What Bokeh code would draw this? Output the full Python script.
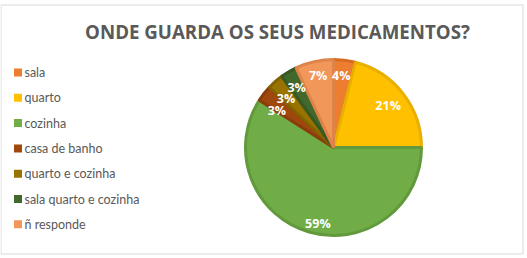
import numpy as np
from bokeh.plotting import figure
from bokeh.models import Range1d, ColumnDataSource
from bokeh.core.properties import value
from bokeh.embed import file_html
from bokeh.resources import INLINE

title = "ONDE GUARDA OS SEUS MEDICAMENTOS?"
categories = ["sala", "quarto", "cozinha", "casa de banho", "quarto e cozinha",
              "sala quarto e cozinha", "ñ responde"]
percentages = [4, 21, 59, 3, 3, 3, 7]
colors = ["#ED7D31", "#FFC000", "#70AD47", "#9E480E", "#997300", "#43682B", "#F1975A"]
edge_colors = ["#D86A22", "#E8AE00", "#62993C", "#8A3D0B", "#836200", "#385824", "#DE8449"]
# best-fit label nudges (screen px, layout only)
label_dx = [-1, -1, 4, -1, -1, -1, 0]
label_dy = [-2, 1, 8, 6, 4, 1, -3]

W, H = 527, 258
p = figure(width=W, height=H, output_backend="svg", toolbar_location=None,
           x_range=Range1d(0, W), y_range=Range1d(0, H), min_border=0)
p.axis.visible = False
p.grid.visible = False
p.outline_line_color = None
p.background_fill_color = "white"

def sy(y):
    return H - np.asarray(y, dtype=float)

# chart border
p.quad(left=[0.5], right=[522.5], top=[sy(4.5)], bottom=[sy(253.5)], fill_color=None,
       line_color="#D9D9D9", line_width=1)

# pie
cx, cys, R = 333, 147, 88
vals = np.array(percentages, dtype=float)
frac = vals / vals.sum()
cum_end = np.cumsum(frac)
cum_start = cum_end - frac
start = np.pi / 2 - cum_end * 2 * np.pi
end = np.pi / 2 - cum_start * 2 * np.pi
src = ColumnDataSource(dict(start=start, end=end, color=colors, edge=edge_colors))
p.wedge(x=cx, y=sy(cys), radius=R, start_angle="start", end_angle="end", source=src,
        fill_color="color", line_color="edge", line_width=3)

mid = (start + end) / 2
lr = 0.8 * R
lx = cx + lr * np.cos(mid) + np.array(label_dx)
ly_screen = cys - lr * np.sin(mid) + np.array(label_dy)
labels = [f"{v}%" for v in percentages]
p.text(x=lx, y=sy(ly_screen), text=labels, text_color="white", text_font=value("Open Sans"),
       text_font_style="bold", text_font_size="12.5px", text_align="center",
       text_baseline="middle")

# title
p.text(x=[277], y=sy([31]), text=[title], text_color="#595959", text_font=value("Open Sans"),
       text_font_style="bold", text_font_size="18.7px", text_align="center",
       text_baseline="middle")

# legend
ly0, dy = 72, 25.3
legy = sy([ly0 + i * dy for i in range(len(categories))])
p.rect(x=[17.5] * len(categories), y=legy, width=8, height=8, fill_color=colors,
       line_color=None)
p.text(x=[24] * len(categories), y=legy, text=categories, text_color="#595959",
       text_font=value("Lato"), text_font_size="12.5px", text_baseline="middle")

open("out.html", "w").write(file_html(p, INLINE))
